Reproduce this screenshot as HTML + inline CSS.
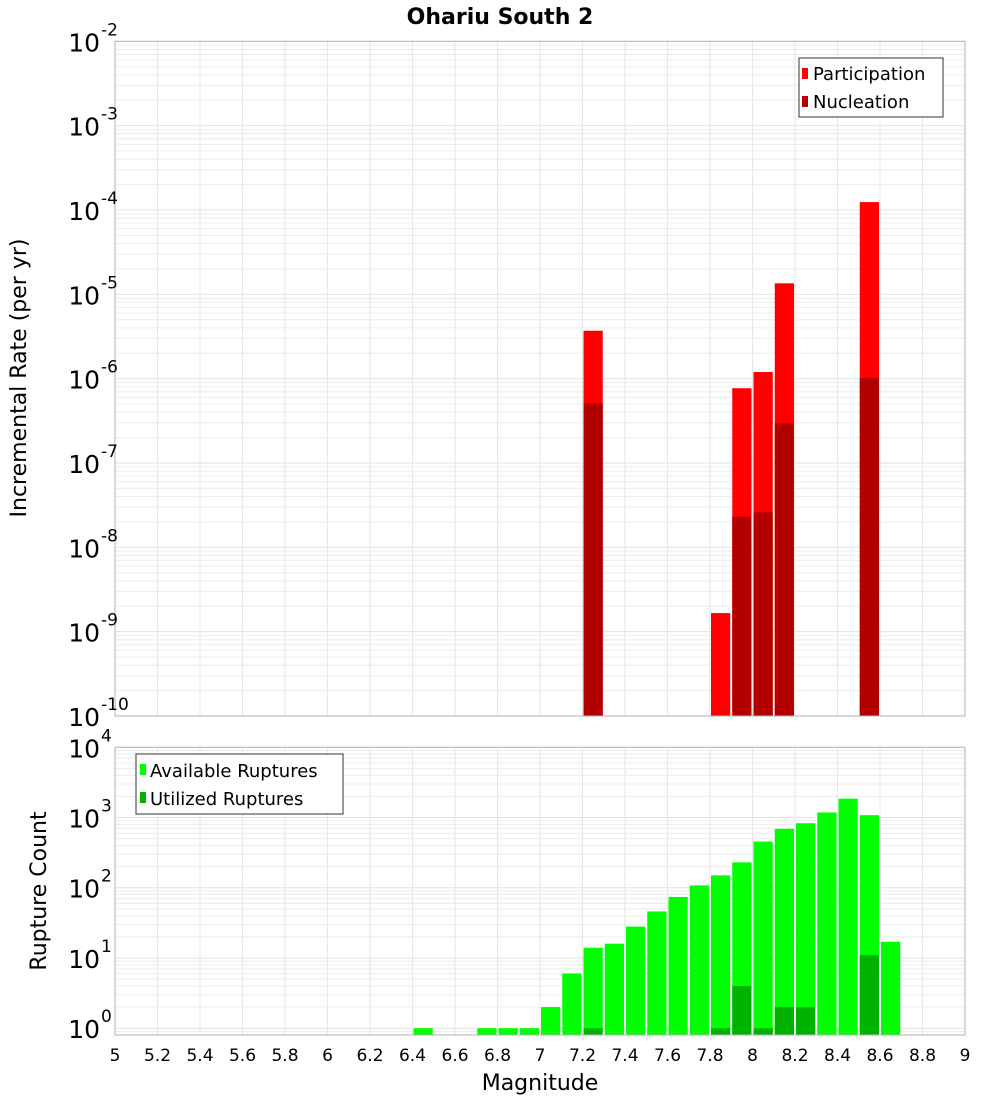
<!DOCTYPE html>
<html><head><meta charset="utf-8"><style>
html,body{margin:0;padding:0;background:#fff;}
svg{display:block;font-family:"DejaVu Sans","Liberation Sans",sans-serif;}
</style></head><body>
<svg id="chart" width="1000" height="1100" xmlns="http://www.w3.org/2000/svg">
<text x="500" y="24" text-anchor="middle" font-size="22" font-weight="bold">Ohariu South 2</text>
<g id="top"></g>
<g id="bot"></g>
<text transform="translate(26,378) rotate(-90)" text-anchor="middle" font-size="22">Incremental Rate (per yr)</text>
<text transform="translate(46,891) rotate(-90)" text-anchor="middle" font-size="22">Rupture Count</text>
<text x="540" y="1090" text-anchor="middle" font-size="22">Magnitude</text>
</svg>
<script>
// Top panel data (bin start magnitudes)
const rateBins = [7.2, 7.8, 7.9, 8.0, 8.1, 8.5];
const participation = [3.7e-6, 1.66e-9, 7.7e-7, 1.2e-6, 1.35e-5, 1.24e-4];
const nucleation = [5.1e-7, 0, 2.3e-8, 2.6e-8, 2.95e-7, 1.02e-6];
// Bottom panel data
const countBins = [6.4, 6.7, 6.8, 6.9, 7.0, 7.1, 7.2, 7.3, 7.4, 7.5, 7.6, 7.7, 7.8, 7.9, 8.0, 8.1, 8.2, 8.3, 8.4, 8.5, 8.6];
const available = [1, 1, 1, 1, 2, 6, 14, 16, 28, 46, 74, 108, 150, 230, 455, 690, 830, 1180, 1860, 1080, 17];
const utilized = [0, 0, 0, 0, 0, 0, 1, 0, 0, 0, 0, 0, 1, 4, 1, 2, 2, 0, 0, 11, 0];
const xTicks = [5, 5.2, 5.4, 5.6, 5.8, 6, 6.2, 6.4, 6.6, 6.8, 7, 7.2, 7.4, 7.6, 7.8, 8, 8.2, 8.4, 8.6, 8.8, 9];
const topExps = [-2, -3, -4, -5, -6, -7, -8, -9, -10];
const botExps = [4, 3, 2, 1, 0];

const NS = "http://www.w3.org/2000/svg";
const L = 115, R = 965;
const xS = m => L + (m - 5) / 4 * (R - L);
const T1 = 41.3, B1 = 716;
const yTop = v => T1 + (-2 - Math.log10(v)) / 8 * (B1 - T1);
const T2 = 747.3, B2 = 1035, LMIN = Math.log10(0.8), LMAX = 4;
const yBot = v => B2 - (Math.log10(v) - LMIN) / (LMAX - LMIN) * (B2 - T2);

function mk(parent, tag, attrs, text) {
  const e = document.createElementNS(NS, tag);
  for (const k in attrs) e.setAttribute(k, attrs[k]);
  if (text !== undefined) e.textContent = text;
  parent.appendChild(e);
  return e;
}

function panel(g, top, bot, yS, lo, hi, name) {
  mk(g, 'rect', {x: L, y: top, width: R - L, height: bot - top, fill: '#fff'});
  for (let d = lo; d < hi; d++) {
    for (let k = 1; k <= 9; k++) {
      const v = k * Math.pow(10, d);
      const y = yS(v);
      if (y < top || y > bot) continue;
      const gl = mk(g, 'line', {x1: L, x2: R, y1: y, y2: y, stroke: k === 1 ? '#e2e2e2' : '#ececec', 'stroke-width': 1});
      
      
    }
  }
  xTicks.forEach(t => {
    const x = xS(t);
    const gl = mk(g, 'line', {x1: x, x2: x, y1: top, y2: bot, stroke: '#e6e6e6', 'stroke-width': 1});
    
    
  });
}

function frame(g, top, bot, name) {
  const f = mk(g, 'rect', {x: L, y: top, width: R - L, height: bot - top, fill: 'none', stroke: '#b0b0b0', 'stroke-width': 1});
  
  
}

function yLabel(g, y, e, name) {
  const t = mk(g, 'text', {x: 100, y: y + 10, 'text-anchor': 'end', 'font-size': 25});
  t.textContent = '10';
  
  
  const s = mk(g, 'text', {x: 101, y: y - 6, 'font-size': 17}, String(e));
  
  
}

function bar(g, m, y0, y1, color, name) {
  const x0 = xS(m) + 1, x1 = xS(m + 0.1) - 1;
  const r = mk(g, 'rect', {x: x0, y: y1, width: x1 - x0, height: y0 - y1, fill: color});
  
  
}

// Top panel
const gt = document.getElementById('top');
panel(gt, T1, B1, yTop, -10, -2, 'top');
rateBins.forEach((m, i) => {
  if (participation[i] > 0) bar(gt, m, B1, yTop(participation[i]), '#ff0000', 'participation-bar-' + m.toFixed(1));
  if (nucleation[i] > 0) bar(gt, m, B1, yTop(nucleation[i]), '#b20000', 'nucleation-bar-' + m.toFixed(1));
});
frame(gt, T1, B1, 'top');
topExps.forEach(e => yLabel(gt, yTop(Math.pow(10, e)), e, 'top-y-tick-label'));

// top legend
const lg1 = mk(gt, 'g', {});


mk(lg1, 'rect', {x: 799, y: 58, width: 144, height: 59, fill: '#fff', stroke: '#333', 'stroke-width': 1});
const le1 = mk(lg1, 'g', {});


mk(le1, 'rect', {x: 802, y: 68, width: 6, height: 11, fill: '#ff0000'});
mk(le1, 'text', {x: 813, y: 80, 'font-size': 18}, 'Participation');
const le2 = mk(lg1, 'g', {});


mk(le2, 'rect', {x: 802, y: 96, width: 6, height: 11, fill: '#b20000'});
mk(le2, 'text', {x: 813, y: 108, 'font-size': 18}, 'Nucleation');

// Bottom panel
const gb = document.getElementById('bot');
panel(gb, T2, B2, yBot, -1, 4, 'bottom');
countBins.forEach((m, i) => {
  if (available[i] > 0) bar(gb, m, B2, yBot(available[i]), '#00ff00', 'available-bar-' + m.toFixed(1));
  if (utilized[i] > 0) bar(gb, m, B2, yBot(utilized[i]), '#00b200', 'utilized-bar-' + m.toFixed(1));
});
frame(gb, T2, B2, 'bottom');
botExps.forEach(e => yLabel(gb, yBot(Math.pow(10, e)), e, 'bottom-y-tick-label'));

const lg2 = mk(gb, 'g', {});


mk(lg2, 'rect', {x: 136, y: 754, width: 207, height: 60, fill: '#fff', stroke: '#333', 'stroke-width': 1});
const le3 = mk(lg2, 'g', {});


mk(le3, 'rect', {x: 140, y: 764, width: 6, height: 11, fill: '#00ff00'});
mk(le3, 'text', {x: 150, y: 777, 'font-size': 18}, 'Available Ruptures');
const le4 = mk(lg2, 'g', {});


mk(le4, 'rect', {x: 140, y: 792, width: 6, height: 11, fill: '#00b200'});
mk(le4, 'text', {x: 150, y: 805, 'font-size': 18}, 'Utilized Ruptures');

// x tick labels
xTicks.forEach(t => {
  const tx = mk(gb, 'text', {x: xS(t), y: 1061, 'text-anchor': 'middle', 'font-size': 17}, String(t));
  
  
});
</script>
</body></html>
